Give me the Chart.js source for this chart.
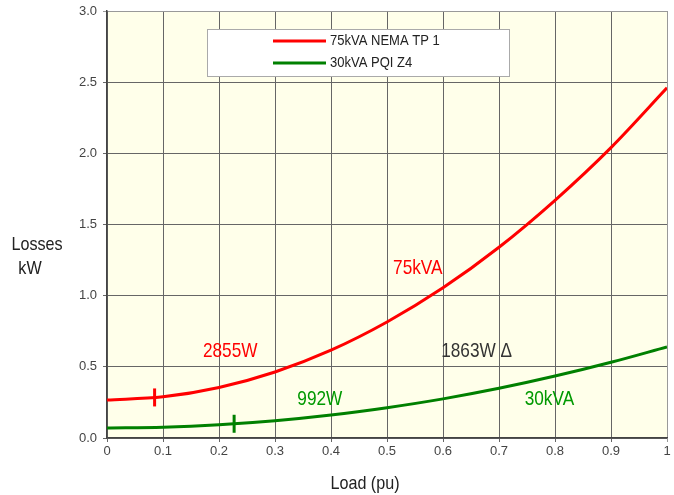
<!DOCTYPE html>
<html><head><meta charset="utf-8">
<script src="https://cdn.jsdelivr.net/npm/chart.js@4.4.0/dist/chart.umd.min.js"></script>
<style>html,body{margin:0;padding:0;background:#fff}#wrap{width:674px;height:495px}</style>
</head><body><div id="wrap"><canvas id="c" width="674" height="495"></canvas></div>
<script>
const loadPu = [0,0.1,0.2,0.3,0.4,0.5,0.6,0.7,0.8,0.9,1.0];
const losses75 = [0.267,0.289,0.355,0.464,0.617,0.815,1.055,1.34,1.67,2.04,2.46];
const losses30 = [0.070,0.076,0.093,0.121,0.161,0.213,0.275,0.349,0.435,0.532,0.640];
const seriesNames = ['75kVA NEMA TP 1','30kVA PQI Z4'];
const markers75 = [{x:0.085,y:0.285}];
const markers30 = [{x:0.227,y:0.10}];
const xTicks = [0,0.1,0.2,0.3,0.4,0.5,0.6,0.7,0.8,0.9,1];
const yTicks = [0,0.5,1.0,1.5,2.0,2.5,3.0];
const annotations = [
  {text:'2855W', x:0.22, y:0.61, color:'#ff0000'},
  {text:'75kVA', x:0.555, y:1.19, color:'#ff0000'},
  {text:'1863W \u0394', x:0.66, y:0.61, color:'#333333'},
  {text:'992W', x:0.38, y:0.27, color:'#009900'},
  {text:'30kVA', x:0.79, y:0.27, color:'#009900'}
];
const RED='#ff0000', GREEN='#008000';

const bgPlugin = {
  id:'bg',
  beforeDraw(chart){
    const {ctx, chartArea:a} = chart;
    ctx.save(); ctx.fillStyle='#ffffea'; ctx.fillRect(a.left,a.top,a.right-a.left,a.bottom-a.top); ctx.restore();
  }
};
function condText(ctx, txt, x, y, sx, align){
  ctx.save(); ctx.translate(x,y); ctx.scale(sx,1); ctx.textAlign=align||'center'; ctx.fillText(txt,0,0); ctx.restore();
}
const overlay = {
  id:'overlay',
  afterDraw(chart){
    const {ctx, scales:{x,y}} = chart;
    ctx.save();
    ctx.font='21px "Liberation Sans", Arial, sans-serif';
    ctx.textBaseline='middle';
    annotations.forEach(a=>{ ctx.fillStyle=a.color; condText(ctx,a.text,x.getPixelForValue(a.x),y.getPixelForValue(a.y),0.82,'center'); });
    ctx.fillStyle='#222';
    ctx.font='19px "Liberation Sans", Arial, sans-serif';
    condText(ctx,'Losses',37,245,0.85,'center');
    condText(ctx,'kW',30,269,0.85,'center');
    condText(ctx,'Load (pu)',365,484,0.85,'center');
    // legend
    const lx=207, ly=29, lw=302, lh=47;
    ctx.fillStyle='#fff'; ctx.fillRect(lx,ly,lw,lh);
    ctx.strokeStyle='#aaa'; ctx.lineWidth=1; ctx.strokeRect(lx+0.5,ly+0.5,lw,lh);
    const cols=[RED,GREEN];
    ctx.font='14px "Liberation Sans", Arial, sans-serif';
    seriesNames.forEach((n,i)=>{
      const yy=ly+12+i*22;
      ctx.strokeStyle=cols[i]; ctx.lineWidth=3; ctx.beginPath(); ctx.moveTo(273,yy); ctx.lineTo(326,yy); ctx.stroke();
      ctx.fillStyle='#222'; ctx.textAlign='left'; condText(ctx,n,330,yy,0.93,'left');
    });
    ctx.restore();
  }
};

new Chart(document.getElementById('c'), {
  type:'line',
  data:{
    datasets:[
      {label:seriesNames[0], data:loadPu.map((v,i)=>({x:v,y:losses75[i]})), borderColor:RED, borderWidth:3, pointRadius:0, cubicInterpolationMode:'monotone', fill:false},
      {label:seriesNames[1], data:loadPu.map((v,i)=>({x:v,y:losses30[i]})), borderColor:GREEN, borderWidth:3, pointRadius:0, cubicInterpolationMode:'monotone', fill:false},
      {label:'m75', data:markers75, type:'scatter', pointStyle:'line', rotation:90, radius:9, borderColor:RED, borderWidth:3, pointBackgroundColor:RED},
      {label:'m30', data:markers30, type:'scatter', pointStyle:'line', rotation:90, radius:9, borderColor:GREEN, borderWidth:3, pointBackgroundColor:GREEN}
    ]
  },
  options:{
    responsive:false, animation:false, devicePixelRatio:1,
    layout:{autoPadding:false, padding:{left:0,right:7,top:11,bottom:0}},
    plugins:{legend:{display:false}, tooltip:{enabled:false}},
    scales:{
      x:{type:'linear', min:0, max:1,
        afterBuildTicks(s){ s.ticks = xTicks.map(v=>({value:v})); },
        afterFit(s){ s.height=57; s.paddingRight=0; s.paddingLeft=0; },
        ticks:{color:'#444', font:{size:13,family:'"Liberation Sans", Arial, sans-serif'}, padding:2, callback:v=>String(v), maxRotation:0, autoSkip:false},
        grid:{color:c=>c.tick && c.tick.value===1 ? '#999' : '#666', lineWidth:1, tickLength:4, drawTicks:true},
        border:{color:'#444', width:1.5}
      },
      y:{type:'linear', min:0, max:3,
        afterBuildTicks(s){ s.ticks = yTicks.map(v=>({value:v})); },
        afterFit(s){ s.width=107; s.paddingTop=0; s.paddingBottom=0; },
        ticks:{color:'#444', font:{size:13,family:'"Liberation Sans", Arial, sans-serif'}, padding:6, callback:v=>v.toFixed(1)},
        grid:{color:c=>c.tick && c.tick.value===3 ? '#999' : '#666', lineWidth:1, tickLength:4},
        border:{color:'#444', width:1.5}
      }
    }
  },
  plugins:[bgPlugin, overlay]
});
</script></body></html>
